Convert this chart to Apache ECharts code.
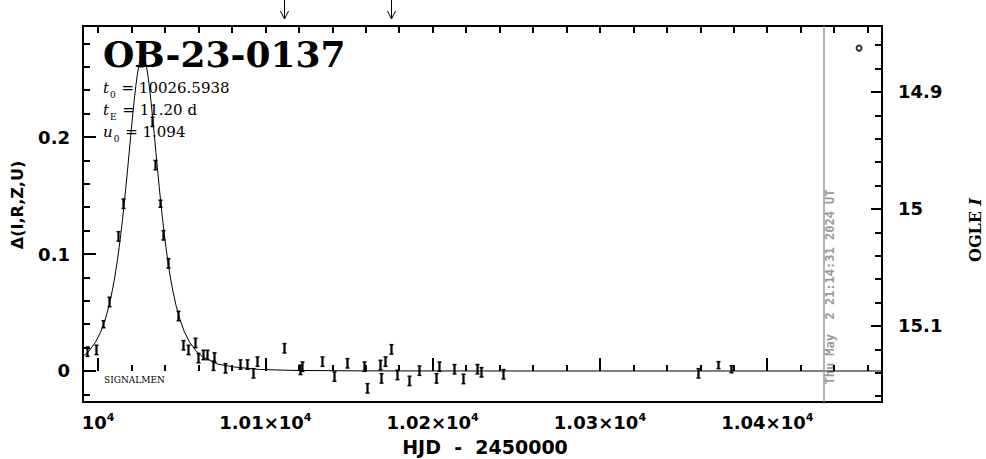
<!DOCTYPE html>
<html><head><meta charset="utf-8">
<script src="https://cdn.jsdelivr.net/npm/echarts@6/dist/echarts.min.js"></script>
<style>html,body{margin:0;padding:0;background:#fff;}#c{width:986px;height:459px;}</style>
</head><body><div id="c"></div>
<script>
// ---- axis ranges ----
const xMin = 9991, xMax = 10468.6;
const yMin = -0.0265, yMax = 0.2949;
const magAtZero = 15.1385;            // OGLE I that corresponds to delta = 0
const magTop = magAtZero - yMax, magBottom = magAtZero - yMin;

// ---- tick values / labels ----
const xMajorTicks = [10000, 10100, 10200, 10300, 10400];
const xTickLabels = ['10^4', '1.01×10^4', '1.02×10^4', '1.03×10^4', '1.04×10^4'];
const xMinorTicks = [10000,10020,10040,10060,10080,10100,10120,10140,10160,10180,10200,10220,10240,10260,10280,10300,10320,10340,10360,10380,10400,10420,10440,10460];
const yMajorTicks = [0, 0.1, 0.2];
const yTickLabels = ['0', '0.1', '0.2'];
const yMinorTicks = [-0.02,0,0.02,0.04,0.06,0.08,0.1,0.12,0.14,0.16,0.18,0.2,0.22,0.24,0.26,0.28];
const magMajorTicks = [14.9, 15, 15.1];
const magTickLabels = ['14.9', '15', '15.1'];
const magMinorTicks = [14.86,14.88,14.9,14.92,14.94,14.96,14.98,15,15.02,15.04,15.06,15.08,15.1,15.12,15.14,15.16];

// ---- model curve ----
const modelT = [9986.6,9990.6,9994.6,9998.6,10001.6,10004.6,10006.6,10008.6,10009.6,10010.6,10011.6,10012.6,10013.6,10014.6,10015.6,10016.6,10017.6,10018.6,10019.6,10020.6,10021.6,10022.6,10023.6,10024.6,10025.6,10026.6,10027.6,10028.6,10029.6,10030.6,10031.6,10032.6,10033.6,10034.6,10035.6,10036.6,10037.6,10038.6,10039.6,10040.6,10041.6,10042.6,10043.6,10044.6,10046.6,10048.6,10051.6,10054.6,10058.6,10062.6,10071.6,10081.6,10096.6,10116.6,10156.6,10226.6,10480];
const modelD = [0.0086,0.0120,0.0171,0.0249,0.0335,0.0455,0.0561,0.0693,0.0770,0.0856,0.0951,0.1055,0.1169,0.1293,0.1426,0.1567,0.1716,0.1868,0.2021,0.2171,0.2312,0.2439,0.2546,0.2628,0.2679,0.2696,0.2679,0.2628,0.2546,0.2439,0.2312,0.2171,0.2021,0.1868,0.1716,0.1567,0.1426,0.1293,0.1169,0.1055,0.0951,0.0856,0.0770,0.0693,0.0561,0.0455,0.0335,0.0249,0.0171,0.0120,0.0058,0.0034,0.0013,0.0005,0.0001,0.0,0.0];

// ---- observations ----
const obsT = [9993.6,9998.8,10002.9,10006.6,10012.1,10015.1,10025.9,10032.0,10034.0,10037.1,10039.0,10042.0,10048.0,10051.0,10054.0,10058.0,10060.0,10062.6,10065.0,10068.5,10069.2,10075.9,10084.9,10088.9,10092.8,10094.9,10111.4,10120.7,10122.0,10134.1,10141.1,10149.0,10159.2,10160.6,10168.6,10169.2,10171.7,10175.0,10178.9,10186.1,10192.0,10202.0,10204.0,10213.0,10218.0,10226.4,10228.9,10242.3,10358.8,10370.8,10378.4];
const obsD = [0.0165,0.018,0.040,0.059,0.115,0.143,0.264,0.213,0.176,0.143,0.116,0.092,0.047,0.022,0.018,0.024,0.011,0.0137,0.0137,0.0045,0.0115,0.0023,0.0055,0.0055,-0.002,0.008,0.0194,0.001,0.0037,0.008,-0.0048,0.0066,0.0037,-0.0148,0.0051,-0.0063,0.008,0.0185,-0.0034,-0.0085,0.0003,-0.0063,0.0037,0.0015,-0.0068,0.0015,-0.0011,-0.0028,-0.002,0.005,0.0015];
const obsE = [0.004,0.004,0.003,0.004,0.004,0.004,0.004,0.004,0.004,0.003,0.004,0.004,0.004,0.004,0.004,0.004,0.004,0.004,0.004,0.004,0.004,0.004,0.004,0.004,0.004,0.004,0.004,0.004,0.004,0.004,0.004,0.004,0.004,0.004,0.004,0.004,0.004,0.004,0.004,0.004,0.004,0.004,0.004,0.004,0.004,0.004,0.004,0.004,0.004,0.003,0.003];

// ---- extra marks ----
const ogleT = [10454.9], ogleD = [0.276];
const arrowT = [10111.2, 10175.3];
const nowT = 10433.5;

const chart = echarts.init(document.getElementById('c'), null, {renderer: 'svg'});
const LBL = {fontFamily: 'DejaVu Sans', fontWeight: 'bold', fontSize: 18, color: '#000'};
const noSplit = {show: false};

function xAxisDef(pos, ticks, len, labels) {
  return {
    type: 'value', position: pos, min: xMin, max: xMax, gridIndex: 0,
    axisLine: {show: false}, splitLine: noSplit,
    axisTick: {show: true, inside: true, length: len, customValues: ticks, lineStyle: {color: '#000', width: 2}},
    axisLabel: labels ? {
      show: true, customValues: xMajorTicks, margin: 10,
      formatter: v => { const i = xMajorTicks.indexOf(Math.round(v)); const s = i >= 0 ? xTickLabels[i] : ''; return s.replace('^4', '{sup|4}').replace(/^([^{]+)/, '{b|$1}'); },
      rich: {b: Object.assign({}, LBL, {lineHeight: 20}), sup: {fontFamily: 'DejaVu Sans', fontWeight: 'bold', fontSize: 11, color: '#000', verticalAlign: 'top', lineHeight: 20, padding: [0, 0, 6, 0]}}
    } : {show: false}
  };
}
function yAxisDef(pos, min, max, inverse, ticks, len, majors, labels, margin) {
  return {
    type: 'value', position: pos, min: min, max: max, inverse: inverse,
    axisLine: {show: false}, splitLine: noSplit,
    axisTick: {show: true, inside: true, length: len, customValues: ticks, lineStyle: {color: '#000', width: 2}},
    axisLabel: labels ? Object.assign({show: true, customValues: majors, margin: margin,
      formatter: v => { let best = 0; majors.forEach((m, i) => { if (Math.abs(m - v) < Math.abs(majors[best] - v)) best = i; }); return labels[best]; }}, LBL) : {show: false}
  };
}

const option = {
  animation: false,
  backgroundColor: '#fff',
  grid: {left: 83, top: 26, width: 799, height: 376, show: true, borderColor: '#000', borderWidth: 2, backgroundColor: 'transparent'},
  xAxis: [
    xAxisDef('bottom', xMajorTicks, 13, true),
    xAxisDef('bottom', xMinorTicks, 6, false),
    xAxisDef('top', xMinorTicks, 7, false)
  ],
  yAxis: [
    yAxisDef('left', yMin, yMax, false, yMajorTicks, 13, yMajorTicks, yTickLabels, 13),
    yAxisDef('left', yMin, yMax, false, yMinorTicks, 7, null, null, 0),
    yAxisDef('right', magTop, magBottom, true, magMajorTicks, 11, magMajorTicks, magTickLabels, 16),
    yAxisDef('right', magTop, magBottom, true, magMinorTicks, 7, null, null, 0)
  ],
  series: [
    {
      type: 'line', xAxisIndex: 0, yAxisIndex: 0, showSymbol: false, symbol: 'none', clip: true,
      data: modelT.map((t, i) => [t, modelD[i]]),
      lineStyle: {color: '#000', width: 1}, silent: true,
      markLine: {silent: true, symbol: 'none', label: {show: false}, lineStyle: {color: '#9a9a9a', type: 'solid', width: 1.5}, data: [{xAxis: nowT}]}
    },
    {
      type: 'custom', xAxisIndex: 0, yAxisIndex: 0, clip: true,
      data: obsT.map((t, i) => [t, obsD[i], obsE[i]]),
      encode: {x: 0, y: 1},
      renderItem: function (params, api) {
        const t = api.value(0), d = api.value(1), e = api.value(2);
        const lo = api.coord([t, d - e]), hi = api.coord([t, d + e]);
        const x = Math.round(lo[0]) + 0.5;
        const st = {stroke: '#000', lineWidth: 2.2};
        return {type: 'group', children: [
          {type: 'line', shape: {x1: x, y1: lo[1], x2: x, y2: hi[1]}, style: st},
          {type: 'line', shape: {x1: x - 2, y1: lo[1], x2: x + 2, y2: lo[1]}, style: {stroke: '#000', lineWidth: 1.5}},
          {type: 'line', shape: {x1: x - 2, y1: hi[1], x2: x + 2, y2: hi[1]}, style: {stroke: '#000', lineWidth: 1.5}}
        ]};
      }
    },
    {
      type: 'scatter', xAxisIndex: 0, yAxisIndex: 0, symbol: 'circle', symbolSize: 5,
      data: ogleT.map((t, i) => [t, ogleD[i]]),
      itemStyle: {color: '#fff', borderColor: '#000', borderWidth: 2}
    },
    {
      type: 'custom', xAxisIndex: 0, yAxisIndex: 0, clip: false,
      data: arrowT.map(t => [t, yMax]),
      renderItem: function (params, api) {
        const p = api.coord([api.value(0), api.value(1)]);
        const x = Math.round(p[0]) + 0.5, top = p[1] - 26, tip = p[1] - 7;
        const st = {stroke: '#000', lineWidth: 1};
        return {type: 'group', children: [
          {type: 'line', shape: {x1: x, y1: top, x2: x, y2: tip}, style: st},
          {type: 'polyline', shape: {points: [[x - 4, tip - 8], [x, tip], [x + 4, tip - 8]]}, style: {stroke: '#000', lineWidth: 1, fill: null}}
        ]};
      }
    }
  ],
  graphic: [
    {type: 'text', left: 103, top: 36, style: {text: 'OB-23-0137', fontFamily: 'DejaVu Serif', fontWeight: 'bold', fontSize: 36, fill: '#000'}},
    {type: 'text', left: 103, top: 77, style: {
      text: '{i|t}{s|0} = 10026.5938\n{i|t}{s|E} = 11.20 d\n{i|u}{s|0} = 1.094',
      fill: '#000', fontFamily: 'DejaVu Serif', fontSize: 15, lineHeight: 22,
      rich: {
        i: {fontFamily: 'DejaVu Serif', fontStyle: 'italic', fontSize: 15, lineHeight: 22},
        s: {fontFamily: 'DejaVu Serif', fontSize: 9, lineHeight: 22, verticalAlign: 'bottom', padding: [6, 1, 0, 1]}
      }}},
    {type: 'text', left: 104, top: 375, style: {text: 'SIGNALMEN', fontFamily: 'DejaVu Serif', fontSize: 9, fill: '#000'}},
    {type: 'text', x: 17, y: 205, rotation: Math.PI / 2, style: {text: 'Δ(I,R,Z,U)', fontFamily: 'DejaVu Sans', fontWeight: 'bold', fontSize: 16, fill: '#000', align: 'center', verticalAlign: 'middle'}},
    {type: 'text', x: 975, y: 230, rotation: Math.PI / 2, style: {text: 'OGLE {i|I}', fontFamily: 'DejaVu Serif', fontWeight: 'bold', fontSize: 16, fill: '#000', align: 'center', verticalAlign: 'middle',
      rich: {i: {fontFamily: 'DejaVu Serif', fontWeight: 'bold', fontStyle: 'italic', fontSize: 16}}}},
    {type: 'text', x: 485, y: 447, style: {text: 'HJD  -  2450000', fontFamily: 'DejaVu Sans', fontWeight: 'bold', fontSize: 19, fill: '#000', align: 'center', verticalAlign: 'middle'}},
    {type: 'text', x: 830, y: 287, rotation: Math.PI / 2, style: {text: 'Thu May  2 21:14:31 2024 UT', fontFamily: 'DejaVu Sans Mono', fontWeight: 'bold', fontSize: 12, fill: '#9a9a9a', align: 'center', verticalAlign: 'middle'}}
  ]
};
chart.setOption(option);
</script></body></html>
